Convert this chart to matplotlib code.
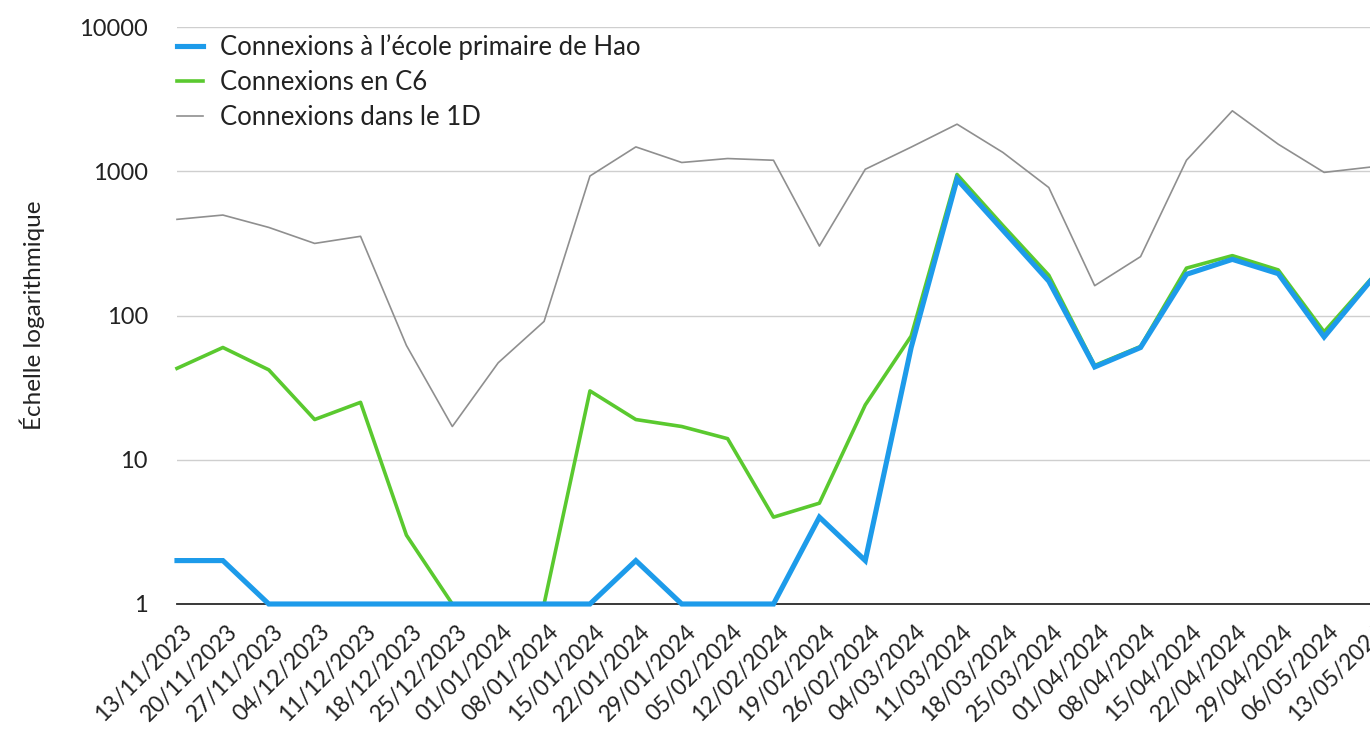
import numpy as np
import matplotlib
matplotlib.use("Agg")
import matplotlib.pyplot as plt
import matplotlib.transforms as mtransforms

# weekly dates (start of week)
dates = ["13/11/2023", "20/11/2023", "27/11/2023", "04/12/2023", "11/12/2023",
         "18/12/2023", "25/12/2023", "01/01/2024", "08/01/2024", "15/01/2024",
         "22/01/2024", "29/01/2024", "05/02/2024", "12/02/2024", "19/02/2024",
         "26/02/2024", "04/03/2024", "11/03/2024", "18/03/2024", "25/03/2024",
         "01/04/2024", "08/04/2024", "15/04/2024", "22/04/2024", "29/04/2024",
         "06/05/2024", "13/05/2024"]

hao = [2, 2, 1, 1, 1, 1, 1, 1, 1, 1, 2, 1, 1, 1, 4, 2, 60, 880, 390, 173,
       44, 60, 193, 245, 195, 71, 172]
c6 = [43, 60, 42, 19, 25, 3, 1, 1, 1, 30, 19, 17, 14, 4, 5, 24, 72, 950, 420, 190,
      45, 61, 213, 260, 207, 77, 176]
d1 = [464, 497, 408, 316, 354, 62, 17, 47, 91, 927, 1475, 1150, 1225, 1192, 303,
      1032, 1470, 2120, 1350, 771, 161, 256, 1192, 2624, 1540, 982, 1068]

labels = ["Connexions à l\u2019école primaire de Hao", "Connexions en C6",
          "Connexions dans le 1D"]

plt.rcParams['font.family'] = ['Lato', 'DejaVu Sans']

fig = plt.figure(figsize=(13.7, 7.56), dpi=100)
ax = fig.add_axes([177 / 1370, (756 - 604) / 756, 1193 / 1370, 577 / 756])

x = np.arange(len(dates))
ax.plot(x, d1, color='#8f8f8f', lw=1.2, label=labels[2], zorder=3, clip_on=False)
ax.plot(x, c6, color='#5ac92f', lw=2.6, label=labels[1], zorder=4, clip_on=False)
ax.plot(x, hao, color='#1d9bea', lw=3.7, label=labels[0], zorder=5, clip_on=False,
        solid_joinstyle='miter')

ax.set_yscale('log')
ax.set_ylim(1, 10000)
ax.set_xlim(0, 25 + 32 / 46.44)
ax.set_yticks([1, 10, 100, 1000, 10000])
ax.set_yticklabels(["1", "10", "100", "1000", "10000"])
ax.minorticks_off()
ax.yaxis.grid(True, color='#cfcfcf', lw=1.0)
ax.set_axisbelow(True)
for s in ['top', 'right', 'left']:
    ax.spines[s].set_visible(False)
ax.spines['bottom'].set_color('#2a2a2a')
ax.spines['bottom'].set_linewidth(1.3)
ax.spines['bottom'].set_zorder(2)

ax.tick_params(axis='y', length=0, pad=21, labelsize=17, colors='#222222')
ax.tick_params(axis='x', length=0, pad=12, labelsize=16.5, colors='#222222')
ax.set_xticks(x)
ax.set_xticklabels(dates, rotation=45, ha='right', va='top', rotation_mode='anchor')
offset = mtransforms.ScaledTranslation(4 / 100, 0, fig.dpi_scale_trans)
for lab in ax.get_xticklabels():
    lab.set_transform(lab.get_transform() + offset)

ax.set_ylabel("Échelle logarithmique", fontsize=17.5, color='#222222')
ax.yaxis.set_label_coords(-0.1106, 0.5)

h, l = ax.get_legend_handles_labels()
leg = ax.legend(h[::-1], l[::-1], loc='upper left', bbox_to_anchor=(0.0, 0.987),
                frameon=False, fontsize=18.5, handlelength=1.0, handletextpad=0.66,
                labelspacing=0.38, borderaxespad=0, borderpad=0)
for t in leg.get_texts():
    t.set_color('#222222')

fig.savefig("out.png", dpi=100)
